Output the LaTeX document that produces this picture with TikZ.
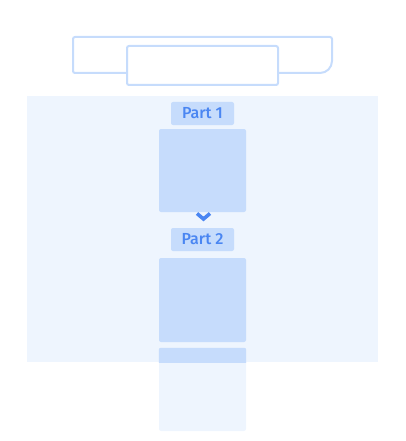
\documentclass[tikz,border=0pt]{standalone}
\usepackage{fontspec}
\setmainfont{Fira Sans}[UprightFont={* Medium}]
\usetikzlibrary{positioning}
\pgfdeclarelayer{edgelayer}
\pgfdeclarelayer{nodelayer}
\pgfsetlayers{edgelayer,nodelayer,main}
\definecolor{panelblue}{HTML}{EEF5FE}
\definecolor{boxblue}{HTML}{C6DCFC}
\definecolor{inkblue}{HTML}{4A86F2}
\tikzstyle{none}=[inner sep=0pt]
\tikzstyle{panel}=[rectangle,fill=panelblue,inner sep=0pt,minimum width=351pt,minimum height=266pt]
\tikzstyle{header}=[draw=boxblue,line width=2pt,rounded corners=2pt]
\tikzstyle{tab}=[rectangle,fill=white,draw=boxblue,line width=2pt,rounded corners=2pt,minimum width=151pt,minimum height=39pt]
\tikzstyle{label}=[rectangle,fill=boxblue,text=inkblue,rounded corners=2pt,inner sep=0pt,minimum width=63pt,minimum height=23pt,font=\fontsize{16pt}{18pt}\selectfont]
\tikzstyle{block}=[rectangle,fill=boxblue,rounded corners=2pt,inner sep=0pt,minimum width=87pt,minimum height=83pt]
\tikzstyle{chevron}=[draw=inkblue,line width=3.6pt,miter limit=4]

\begin{document}
\begin{tikzpicture}[x=1pt,y=-1pt]
	\useasboundingbox (0,0) rectangle (405,441);
	\begin{pgfonlayer}{edgelayer}
		\node [style=panel] (0) at (202.5, 229) {};
	\end{pgfonlayer}
	\begin{pgfonlayer}{nodelayer}
		\node [style=label] (2) at (202.5, 113.5) {Part 1};
		\node [style=block] (3) at (202.5, 170.5) {};
		\node [style=label] (4) at (202.5, 239.5) {Part 2};
		\node [style=block, minimum height=84pt] (5) at (202.5, 300) {};
		\node [style=block, fill=panelblue] (6) at (202.5, 389.5) {};
		\coordinate (7) at (197, 213.5);
		\coordinate (8) at (203.5, 219);
		\coordinate (9) at (210, 213.5);
	\end{pgfonlayer}
	% top of the last block sits inside the panel
	\begin{scope}
		\clip (0.north west) rectangle (0.south east);
		\fill [boxblue, rounded corners=2pt] (6.north west) rectangle (6.south east);
	\end{scope}
	\draw [style=chevron] (7) -- (8) -- (9);
	% header bar and tab
	\draw [style=header] (73, 55) -- (73, 37) -- (332, 37) [rounded corners=12pt] -- (332, 73) [rounded corners=2pt] -- (73, 73) -- cycle;
	\node [style=tab] (1) at (202.5, 65.5) {};
\end{tikzpicture}
\end{document}
